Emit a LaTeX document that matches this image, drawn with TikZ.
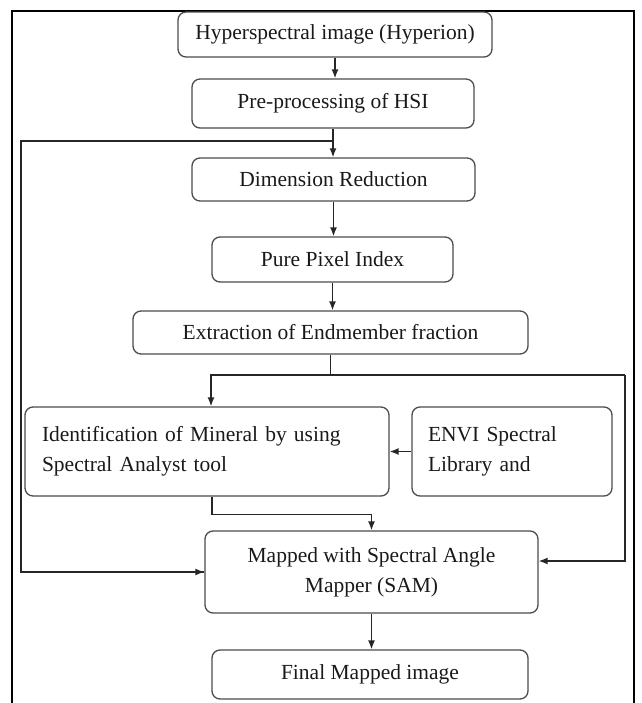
\documentclass[tikz,border=0pt]{standalone}
\usepackage{fontspec}
\setmainfont{Liberation Serif}
\usetikzlibrary{arrows.meta}
\tikzset{
  box/.style={draw=black!70, line width=1.3pt, rounded corners=8pt, align=center,
    inner sep=0pt, text=black!90, font=\fontsize{21.5}{30}\selectfont},
  lbox/.style={box, align=left},
  conn/.style={draw=black!85, line width=1.4pt},
  arr/.style={conn, -{Latex[length=9pt,width=7pt]}},
}
\begin{document}
\begin{tikzpicture}[x=1pt,y=-1pt]
\useasboundingbox (0,0) rectangle (641,703);
% outer frame
\draw[black, line width=1.2pt] (12,706) -- (12,11) -- (634,11) -- (634,706);
% boxes
\node[box, minimum width=314pt, minimum height=45pt] (b1) at (335,34.5) {Hyperspectral image (Hyperion)};
\node[box, minimum width=282pt, minimum height=49pt] (b2) at (333,103.5) {Pre-processing of HSI};
\node[box, minimum width=283pt, minimum height=43pt] (b3) at (333.5,179.5) {Dimension Reduction};
\node[box, minimum width=241pt, minimum height=45pt] (b4) at (332.5,259.5) {Pure Pixel Index};
\node[box, minimum width=395pt, minimum height=43pt] (b5) at (330.5,332.5) {Extraction of Endmember fraction};
\node[lbox, minimum width=364pt, minimum height=89pt, text width=330pt] (b6) at (207,451.5) {Identification of Mineral by using\\Spectral Analyst tool\\[2pt]};
\node[lbox, minimum width=200pt, minimum height=89pt, text width=168pt] (b7) at (512,451.5) {ENVI Spectral\\Library and\\[2pt]};
\node[box, minimum width=333pt, minimum height=82pt] (b8) at (371.5,572) {Mapped with Spectral Angle\\Mapper (SAM)};
\node[box, minimum width=316pt, minimum height=49pt] (b9) at (370,674.5) {Final Mapped image};
% junctions
\coordinate (j1) at (333,141);
\coordinate (lc) at (21,141);
\coordinate (j2) at (330.5,375);
\coordinate (rc) at (625,375);
% connectors
\draw[arr] (b1.south) -- (b1.south |- b2.north);
\draw[arr] (b2.south) -- (b2.south |- b3.north);
\draw[conn] (j1) -- (lc) |- (b8.west) ;
\draw[arr] (lc |- b8.west) -- (b8.west);
\draw[arr] (b3.south) -- (b3.south |- b4.north);
\draw[arr] (b4.south) -- (b4.south |- b5.north);
\draw[conn] (b5.south) -- (j2);
\draw[arr] (j2) -| ([xshift=4pt]b6.north);
\draw[conn] (j2) -- (rc);
\draw[arr] (rc) |- ([yshift=11pt]b8.east);
\draw[arr] (b7.west) -- (b6.east);
\draw[arr] ([xshift=5pt]b6.south) -- ++(0,18) -| (b8.north);
\draw[arr] (b8.south) -- (b8.south |- b9.north);
\end{tikzpicture}
\end{document}
